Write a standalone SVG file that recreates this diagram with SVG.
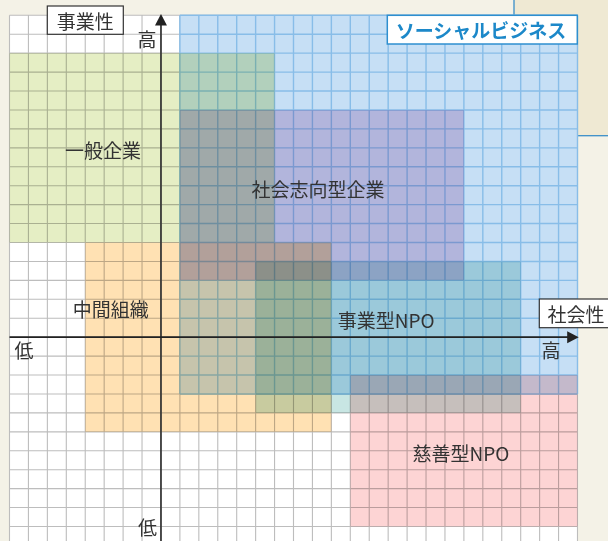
<svg xmlns="http://www.w3.org/2000/svg" width="608" height="541" viewBox="0 0 608 541">
<defs>
<style>
.t{font-family:"Noto Sans CJK JP","Noto Sans",sans-serif;font-size:19px;fill:#333;text-anchor:middle}
.m{mix-blend-mode:multiply}
.g{fill:none;vector-effect:non-scaling-stroke}
.box{fill:#fff;stroke:#333;stroke-width:1.2}
</style>
</defs>
<rect x="0" y="0" width="608" height="541" fill="#f4f2e7"/>
<rect x="514" y="-2" width="100" height="137.7" fill="#efe9d3" stroke="#3a8fc8" stroke-width="1.3"/>
<g id="grid" transform="translate(9.5 15.3) scale(18.933)">
<rect x="0" y="0" width="30" height="28" fill="#fff"/>
<path class="g" stroke="#bdbdbd" stroke-width="1.1" d="M0 0V28M1 0V28M2 0V28M3 0V28M4 0V28M5 0V28M6 0V28M7 0V28M8 0V28M9 0V28M10 0V28M11 0V28M12 0V28M13 0V28M14 0V28M15 0V28M16 0V28M17 0V28M18 0V28M19 0V28M20 0V28M21 0V28M22 0V28M23 0V28M24 0V28M25 0V28M26 0V28M27 0V28M28 0V28M29 0V28M30 0V28M0 0H30M0 1H30M0 2H30M0 3H30M0 4H30M0 5H30M0 6H30M0 7H30M0 8H30M0 9H30M0 10H30M0 11H30M0 12H30M0 13H30M0 14H30M0 15H30M0 16H30M0 17H30M0 18H30M0 19H30M0 20H30M0 21H30M0 22H30M0 23H30M0 24H30M0 25H30M0 26H30M0 27H30"/>
</g>
<g id="social-business">
<g transform="translate(9.5 15.3) scale(18.933)">
<rect x="9" y="0" width="21" height="20" fill="#c6dff5"/>
<path class="g" stroke="#88bde8" stroke-width="1.4" d="M9 0V20M10 0V20M11 0V20M12 0V20M13 0V20M14 0V20M15 0V20M16 0V20M17 0V20M18 0V20M19 0V20M20 0V20M21 0V20M22 0V20M23 0V20M24 0V20M25 0V20M26 0V20M27 0V20M28 0V20M29 0V20M30 0V20M9 0H30M9 1H30M9 2H30M9 3H30M9 4H30M9 5H30M9 6H30M9 7H30M9 8H30M9 9H30M9 10H30M9 11H30M9 12H30M9 13H30M9 14H30M9 15H30M9 16H30M9 17H30M9 18H30M9 19H30M9 20H30"/>
</g>
<rect x="387.3" y="15.3" width="190" height="28.7" fill="#fff" stroke="#2e8fcf" stroke-width="1.5"/>
<text class="t" x="481" y="37.5" style="fill:#1c88c9;font-weight:bold">ソーシャルビジネス</text>
</g>
<g id="general-company">
<rect class="m" x="9.5" y="53.17" width="265.07" height="189.33" fill="#e5eec4"/>
<text class="t" x="103" y="158.2">一般企業</text>
</g>
<g id="social-company">
<rect class="m" x="179.9" y="109.97" width="284" height="170.4" fill="#e6cfe5"/>
<text class="t" x="318" y="197.2">社会志向型企業</text>
</g>
<g id="intermediate">
<rect class="m" x="85.23" y="242.5" width="246.13" height="189.33" fill="#ffe1b3"/>
<text class="t" x="110.7" y="317.2">中間組織</text>
</g>
<g id="business-npo">
<rect class="m" x="255.63" y="261.43" width="265.07" height="151.47" fill="#c8e6e3"/>
<text class="t" x="386.3" y="327.7">事業型NPO</text>
</g>
<g id="charity-npo">
<rect class="m" x="350.3" y="375.03" width="227.2" height="151.47" fill="#fdd4d4"/>
<text class="t" x="461" y="460.8">慈善型NPO</text>
</g>
<g id="connectors">
<line x1="160.97" y1="541" x2="160.97" y2="24" stroke="#333" stroke-width="1.7"/>
<polygon points="160.97,14 154.97,25.5 166.97,25.5" fill="#222"/>
<line x1="9.5" y1="337.17" x2="569" y2="337.17" stroke="#222" stroke-width="1.6"/>
<polygon points="578.7,337.17 567.2,331.17 567.2,343.17" fill="#222"/>
</g>
<g id="axis-business">
<rect class="box" x="47.3" y="6" width="76" height="28.3"/>
<text class="t" x="85.3" y="28.8">事業性</text>
</g>
<g id="axis-social">
<rect class="box" x="539.3" y="299" width="80" height="28.7"/>
<text class="t" x="576" y="321.5">社会性</text>
</g>
<g id="axis-labels">
<text class="t" x="147" y="47.2">高</text>
<text class="t" x="551" y="358.2">高</text>
<text class="t" x="24" y="358.2">低</text>
<text class="t" x="147.5" y="535.2">低</text>
</g>
</svg>
